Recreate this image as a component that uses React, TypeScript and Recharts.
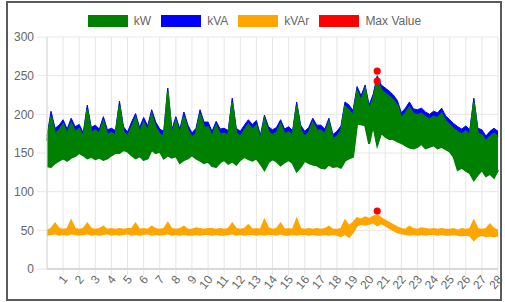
import React from 'react';
import {
  ComposedChart,
  Area,
  Scatter,
  XAxis,
  YAxis,
  CartesianGrid,
} from 'recharts';

// sampled every quarter day, day 0 .. 28
const kvaHigh = [
  172, 204, 182, 186, 193, 181, 195, 184, 187, 176, 212, 183, 186, 181, 197, 180,
  182, 179, 217, 184, 177, 190, 201, 183, 196, 185, 206, 190, 181, 178, 234, 180,
  197, 181, 203, 186, 176, 182, 206, 190, 190, 178, 191, 181, 182, 179, 221, 182,
  178, 186, 193, 187, 192, 173, 199, 184, 180, 183, 193, 181, 184, 179, 216, 186,
  178, 183, 195, 186, 186, 181, 195, 174, 178, 185, 216, 212, 205, 236, 224, 238,
  212, 226, 250, 238, 234, 230, 225, 218, 202, 208, 216, 207, 206, 208, 203, 200,
  204, 202, 208, 198, 193, 188, 184, 181, 185, 180, 221, 182, 180, 172, 178, 182,
  178,
];

const kwHigh = [
  166, 197, 175, 179, 187, 174, 188, 177, 181, 170, 206, 176, 179, 175, 190, 173,
  176, 172, 211, 177, 171, 183, 195, 176, 189, 178, 199, 183, 174, 171, 229, 173,
  191, 174, 197, 179, 170, 175, 200, 183, 183, 171, 185, 174, 175, 172, 215, 175,
  171, 179, 187, 180, 185, 167, 193, 177, 173, 176, 187, 174, 177, 172, 211, 179,
  171, 176, 189, 179, 179, 174, 189, 168, 171, 178, 210, 205, 198, 229, 217, 232,
  205, 219, 244, 231, 227, 223, 218, 211, 195, 201, 209, 200, 199, 201, 196, 193,
  197, 195, 201, 191, 186, 181, 177, 174, 178, 173, 215, 175, 173, 165, 171, 175,
  171,
];

const kwLow = [
  133, 132, 137, 140, 143, 140, 144, 146, 150, 147, 143, 145, 142, 144, 141, 143,
  147, 150, 150, 154, 152, 147, 143, 146, 141, 143, 154, 150, 152, 143, 147, 144,
  146, 137, 141, 143, 147, 143, 140, 137, 139, 133, 132, 138, 141, 136, 139, 135,
  141, 145, 142, 140, 143, 136, 128, 138, 142, 139, 134, 138, 141, 137, 126, 132,
  140, 137, 135, 134, 131, 130, 135, 132, 133, 131, 140, 143, 145, 188, 187, 186,
  162, 186, 160, 176, 171, 168, 168, 165, 163, 160, 157, 156, 158, 162, 156, 158,
  160, 156, 158, 155, 152, 145, 128, 131, 127, 124, 115, 122, 128, 120, 123, 118,
  128,
];

const kvarHigh = [
  50, 52, 59, 52, 51, 52, 63, 52, 51, 52, 59, 52, 51, 52, 55, 51,
  52, 51, 52, 51, 52, 52, 59, 51, 52, 51, 55, 52, 51, 52, 60, 52,
  51, 52, 55, 51, 51, 53, 52, 51, 52, 52, 51, 52, 51, 52, 59, 52,
  51, 52, 57, 51, 52, 51, 64, 53, 51, 52, 59, 51, 52, 51, 65, 52,
  51, 52, 51, 52, 51, 52, 55, 51, 51, 52, 63, 56, 60, 66, 64, 67,
  65, 68, 70, 66, 63, 60, 57, 54, 52, 51, 55, 52, 51, 53, 52, 51,
  52, 51, 52, 51, 51, 52, 50, 52, 51, 52, 63, 52, 51, 52, 58, 52,
  50,
];

const kvarLow = [
  44, 45, 46, 44, 45, 44, 46, 45, 44, 45, 46, 44, 45, 44, 45, 46,
  44, 45, 44, 45, 46, 44, 45, 44, 45, 46, 44, 45, 44, 45, 46, 44,
  45, 44, 45, 44, 44, 45, 44, 45, 45, 44, 45, 44, 44, 45, 46, 44,
  45, 44, 45, 45, 44, 45, 44, 45, 45, 44, 46, 44, 44, 45, 44, 45,
  45, 44, 45, 44, 44, 45, 44, 45, 44, 42, 45, 41, 47, 56, 58, 57,
  58, 60, 56, 59, 56, 53, 50, 47, 46, 45, 44, 45, 44, 45, 44, 45,
  45, 44, 45, 44, 44, 45, 44, 43, 44, 43, 37, 42, 44, 42, 43, 42,
  43,
];

const maxDays = [20.5, 20.5, 20.5];
const maxValues = [256, 243, 75];

const dayTicks = Array.from({ length: 28 }, (_, i) => i + 1);
const yTicks = [0, 50, 100, 150, 200, 250, 300];

const legendItems = [
  { name: 'kW', color: '#008000' },
  { name: 'kVA', color: '#0000ff' },
  { name: 'kVAr', color: '#ffa500' },
  { name: 'Max Value', color: '#ff0000' },
];

const data = kwLow.map((low, i) => ({
  x: i / 4,
  kw: [low, kwHigh[i]],
  kva: [low, kvaHigh[i]],
  kvar: [kvarLow[i], kvarHigh[i]],
}));

const maxPoints = maxDays.map((d, i) => ({ x: d, value: maxValues[i] }));

const FONT = 'Liberation Sans, Arial, Helvetica, sans-serif';

const DayTick = (props: any) => {
  const { x, y, payload } = props;
  return (
    <text
      transform={`translate(${x + 2},${y}) rotate(-50)`}
      textAnchor="end"
      dy="0.35em"
      fontSize={12}
      fontFamily={FONT}
      fill="#666"
    >
      {payload.value}
    </text>
  );
};

const MaxDot = (props: any) => (
  <circle cx={props.cx} cy={props.cy} r={3.6} fill="#ff0000" />
);

export default function App() {
  return (
    <div style={{ position: 'absolute', left: 0, top: 0, width: 505, height: 302, background: '#fff' }}>
      <div
        style={{
          position: 'absolute',
          left: 6,
          top: 1,
          width: 496,
          height: 300,
          boxSizing: 'border-box',
          border: '2px solid #5a5a5a',
        }}
      />
      {/* legend */}
      <div
        style={{
          position: 'absolute',
          left: 0,
          top: 15,
          width: 509,
          display: 'flex',
          justifyContent: 'center',
          gap: 10,
          fontFamily: FONT,
          fontSize: 12,
          color: '#666',
          lineHeight: '12px',
        }}
      >
        {legendItems.map(item => (
          <div key={item.name} style={{ display: 'flex', alignItems: 'center' }}>
            <div style={{ width: 40, height: 12, background: item.color, marginRight: 6 }} />
            <span>{item.name}</span>
          </div>
        ))}
      </div>
      <div style={{ position: 'absolute', left: 0, top: 0 }}>
        <ComposedChart
          width={505}
          height={302}
          data={data}
          margin={{ top: 37, right: 7, left: 0, bottom: 0 }}
        >
          <CartesianGrid stroke="#e6e6e6" />
          <XAxis
            dataKey="x"
            type="number"
            domain={[0, 28]}
            ticks={dayTicks}
            interval={0}
            height={33}
            tick={<DayTick />}
            tickSize={6}
            tickLine={{ stroke: '#e6e6e6' }}
            axisLine={{ stroke: '#bdbdbd' }}
          />
          <YAxis
            type="number"
            domain={[0, 300]}
            ticks={yTicks}
            width={47}
            tickSize={10}
            tickMargin={3}
            tick={{ fontSize: 12, fill: '#666', fontFamily: FONT }}
            tickLine={{ stroke: '#e6e6e6' }}
            axisLine={{ stroke: '#dcdcdc' }}
          />
          {/* kVA sits behind kW, only its upper edge shows */}
          <Area
            type="linear"
            dataKey="kva"
            stroke="#0000ff"
            strokeWidth={1}
            fill="#0000ff"
            fillOpacity={1}
            dot={false}
            activeDot={false}
            isAnimationActive={false}
          />
          <Area
            type="linear"
            dataKey="kw"
            stroke="#008000"
            strokeWidth={2}
            strokeLinejoin="miter"
            fill="#008000"
            fillOpacity={1}
            dot={false}
            activeDot={false}
            isAnimationActive={false}
          />
          <Area
            type="linear"
            dataKey="kvar"
            stroke="#ffa500"
            strokeWidth={1.5}
            fill="#ffa500"
            fillOpacity={1}
            dot={false}
            activeDot={false}
            isAnimationActive={false}
          />
          <Scatter
            data={maxPoints}
            dataKey="value"
            shape={<MaxDot />}
            isAnimationActive={false}
          />
        </ComposedChart>
      </div>
    </div>
  );
}
